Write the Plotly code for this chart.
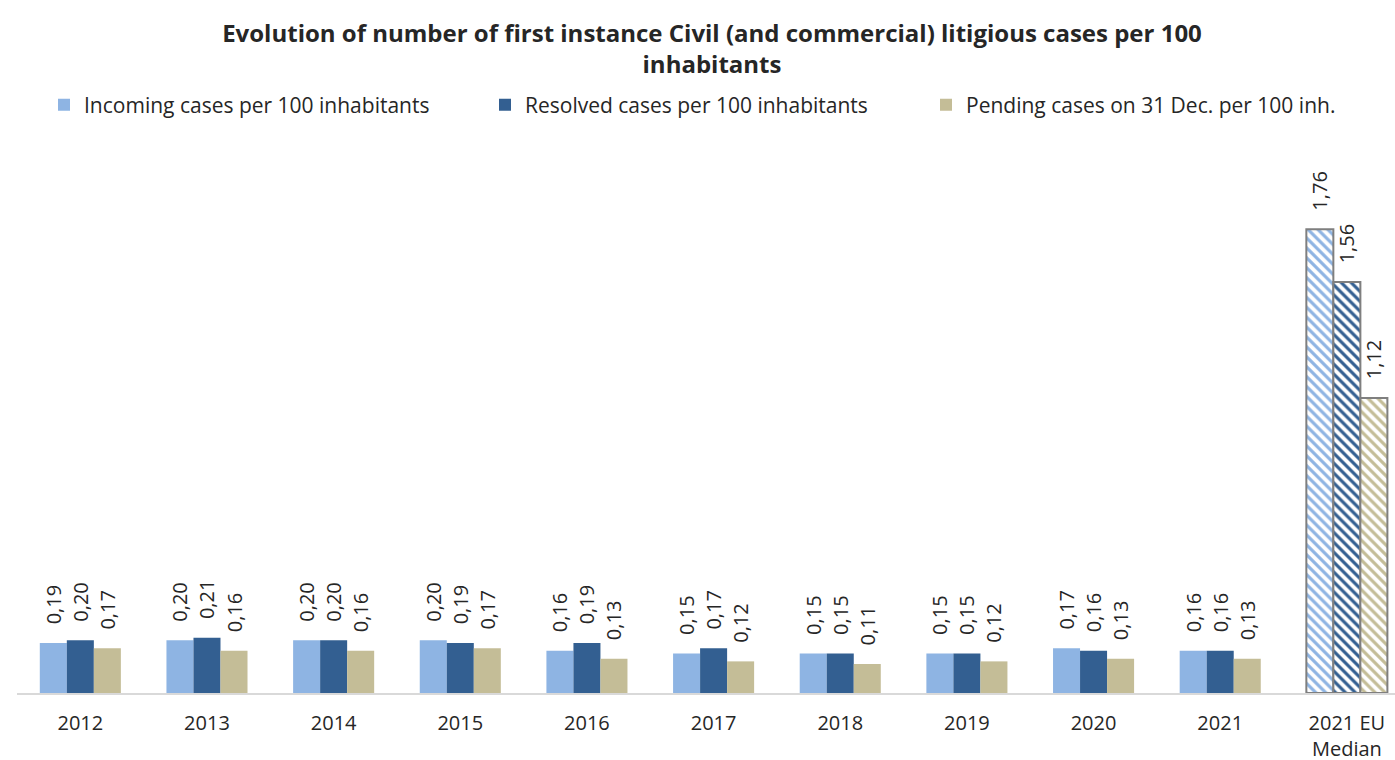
import plotly.graph_objects as go

categories = ["2012", "2013", "2014", "2015", "2016", "2017", "2018", "2019", "2020", "2021", "2021 EU<br>Median"]
incoming = [0.19, 0.20, 0.20, 0.20, 0.16, 0.15, 0.15, 0.15, 0.17, 0.16, 1.76]
resolved = [0.20, 0.21, 0.20, 0.19, 0.19, 0.17, 0.15, 0.15, 0.16, 0.16, 1.56]
pending = [0.17, 0.16, 0.16, 0.17, 0.13, 0.12, 0.11, 0.12, 0.13, 0.13, 1.12]

series = [
    ("Incoming cases per 100 inhabitants", incoming, "#8EB4E3"),
    ("Resolved cases per 100 inhabitants", resolved, "#335F91"),
    ("Pending cases on 31 Dec. per 100 inh.", pending, "#C4BD97"),
]

FONT = "Open Sans"
PAD = "\u00a0\u00a0\u00a0"
fig = go.Figure()
n = len(categories)
for name, vals, col in series:
    shapes = [""] * (n - 1) + ["\\"]
    line_cols = [col] * (n - 1) + ["#7F7F7F"]
    line_w = [0] * (n - 1) + [2]
    fig.add_trace(go.Bar(
        name=name, x=categories, y=vals,
        text=[PAD + f"{v:.2f}".replace(".", ",") for v in vals],
        textposition="outside", textangle=-90, constraintext="none",
        textfont=dict(size=20, color="#262626", family=FONT),
        cliponaxis=False, hoverinfo="skip",
        marker=dict(color=col,
                    line=dict(color=line_cols, width=line_w),
                    pattern=dict(shape=shapes, fgcolor=col, bgcolor="white",
                                 size=7, solidity=0.45, fillmode="replace")),
    ))

L, T, B = 17, 166, 67
W, H = 1395, 760
PW = W - L
fig.update_layout(
    width=W, height=H,
    paper_bgcolor="white", plot_bgcolor="white",
    barmode="group", bargap=0.36, bargroupgap=0,
    margin=dict(l=L, r=0, t=T, b=B, autoexpand=False),
    title=dict(text="<b>Evolution of number of first instance Civil (and commercial) litigious cases per 100<br>inhabitants</b>",
               x=712 / W, xanchor="center", y=1 - 42 / H, yanchor="top",
               font=dict(size=24, color="#262626", family=FONT)),
    legend=dict(orientation="h", x=(44 - L) / PW, xanchor="left", y=1.0 + (T - 105) / (H - T - B), yanchor="middle",
                font=dict(size=21, color="#262626", family=FONT), traceorder="normal",
                entrywidth=396, entrywidthmode="pixels", itemwidth=30),
    showlegend=True,
    xaxis=dict(showline=True, linecolor="#D9D9D9", linewidth=1.5, ticks="", automargin=False,
               range=[-0.5, 10.38], ticklabelstandoff=11,
               tickfont=dict(size=20, color="#262626", family=FONT), showgrid=False),
    yaxis=dict(range=[0, 2.0], visible=False, showgrid=False, automargin=False),
)

fig.write_html("out.html", config={"displayModeBar": False},
               post_script="document.body.style.margin='0';document.body.style.overflow='hidden';")
